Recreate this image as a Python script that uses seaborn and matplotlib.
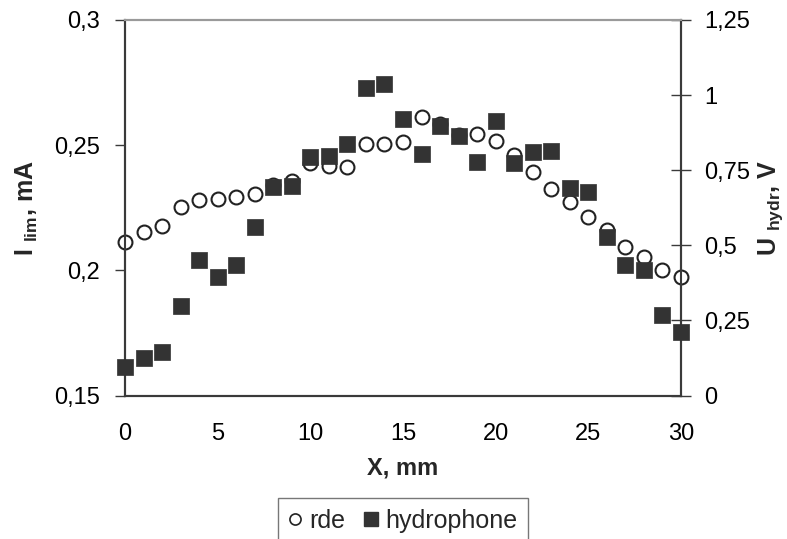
import numpy as np
import pandas as pd
import matplotlib
matplotlib.use("Agg")
import matplotlib.pyplot as plt
import seaborn as sns
from matplotlib.lines import Line2D

# ==================================================
# DATA
# ==================================================

x_mm = list(range(0, 31))

rde = [0.2113, 0.2153, 0.2179, 0.2253, 0.2279, 0.2285, 0.2291, 0.2306,
       0.2342, 0.2355, 0.2429, 0.2415, 0.2411, 0.2506, 0.2506, 0.2511,
       0.2613, 0.2584, 0.2540, 0.2545, 0.2518, 0.2462, 0.2393, 0.2325,
       0.2274, 0.2213, 0.2162, 0.2095, 0.2055, 0.2002, 0.1975]

hydrophone = [0.096, 0.124, 0.146, 0.299, 0.451, 0.396, 0.434, 0.560,
              0.693, 0.698, 0.793, 0.797, 0.837, 1.025, 1.036, 0.920,
              0.804, 0.898, 0.864, 0.776, 0.915, 0.773, 0.810, 0.814,
              0.692, 0.676, 0.529, 0.434, 0.418, 0.268, 0.212]

x_ticks = [0, 5, 10, 15, 20, 25, 30]
left_ticks = [0.15, 0.2, 0.25, 0.3]
left_labels = ["0,15", "0,2", "0,25", "0,3"]
right_ticks = [0, 0.25, 0.5, 0.75, 1.0, 1.25]
right_labels = ["0", "0,25", "0,5", "0,75", "1", "1,25"]

df = pd.DataFrame({"x": x_mm, "rde": rde, "hydrophone": hydrophone})

# ==================================================
# STYLE
# ==================================================

sns.set_style("white")
plt.rcParams["font.family"] = ["Liberation Sans", "DejaVu Sans"]
plt.rcParams["mathtext.fontset"] = "custom"
plt.rcParams["mathtext.rm"] = "Liberation Sans"
plt.rcParams["mathtext.bf"] = "Liberation Sans:bold"

spine_col = "#3a3a3a"
sq_col = "#333333"
tick_fs = 17

fig = plt.figure(figsize=(7.87, 5.39), dpi=100)
ax = fig.add_axes([0.1588, 0.2662, 0.7065, 0.6967])
ax2 = ax.twinx()

# ==================================================
# PLOT
# ==================================================

sns.scatterplot(
    data=df, x="x", y="rde", ax=ax,
    marker="o", s=100, facecolor="white",
    edgecolor="#222222", linewidth=1.5, zorder=3, clip_on=False
)

sns.scatterplot(
    data=df, x="x", y="hydrophone", ax=ax2,
    marker="s", s=125, color=sq_col,
    edgecolor=sq_col, linewidth=0.5, zorder=3, clip_on=False
)

# ==================================================
# AXES
# ==================================================

ax.set_xlim(0, 30)
ax.set_ylim(0.15, 0.3)
ax2.set_ylim(0, 1.25)

ax.set_xticks(x_ticks)
ax.set_xticklabels([str(t) for t in x_ticks])
ax.set_yticks(left_ticks)
ax.set_yticklabels(left_labels)
ax2.set_yticks(right_ticks)
ax2.set_yticklabels(right_labels)

ax.tick_params(axis="x", direction="in", length=7, width=1, colors=spine_col,
               labelcolor="black", labelsize=tick_fs, pad=20)
ax.tick_params(axis="y", direction="out", length=7, width=1, colors=spine_col,
               labelcolor="black", labelsize=tick_fs, pad=11)
ax2.tick_params(axis="y", direction="inout", length=14, width=1, colors=spine_col,
                labelcolor="black", labelsize=tick_fs, pad=10)

for a in (ax, ax2):
    for side in ["left", "right", "bottom"]:
        a.spines[side].set_color(spine_col)
        a.spines[side].set_linewidth(1.5)
        a.spines[side].set_visible(True)
    a.spines["top"].set_color("#9a9a9a")
    a.spines["top"].set_linewidth(1.5)
    a.grid(False)

ax.set_xlabel("X, mm", fontsize=17, fontweight="bold", labelpad=8)
ax.set_ylabel(r"I $_{\mathbf{lim}}$, mA", fontsize=18, fontweight="bold", labelpad=10)
ax2.set_ylabel(r"U $_{\mathbf{hydr}}$, V", fontsize=18, fontweight="bold",
               labelpad=4, rotation=90)

# ==================================================
# LEGEND
# ==================================================

handles = [
    Line2D([], [], marker="o", linestyle="none", markersize=8,
           markerfacecolor="white", markeredgecolor="#222222", markeredgewidth=1.2),
    Line2D([], [], marker="s", linestyle="none", markersize=10,
           markerfacecolor=sq_col, markeredgecolor=sq_col),
]

leg = fig.legend(
    handles, ["rde", "hydrophone"],
    loc="upper center", bbox_to_anchor=(0.512, 0.0766),
    ncol=2, fontsize=18, frameon=True, fancybox=False,
    handlelength=0.5, handletextpad=0.3, columnspacing=0.8,
    borderpad=0.45, borderaxespad=0
)
leg.get_frame().set_edgecolor("#555555")
leg.get_frame().set_linewidth(1.0)

fig.savefig("out.png", dpi=100)
